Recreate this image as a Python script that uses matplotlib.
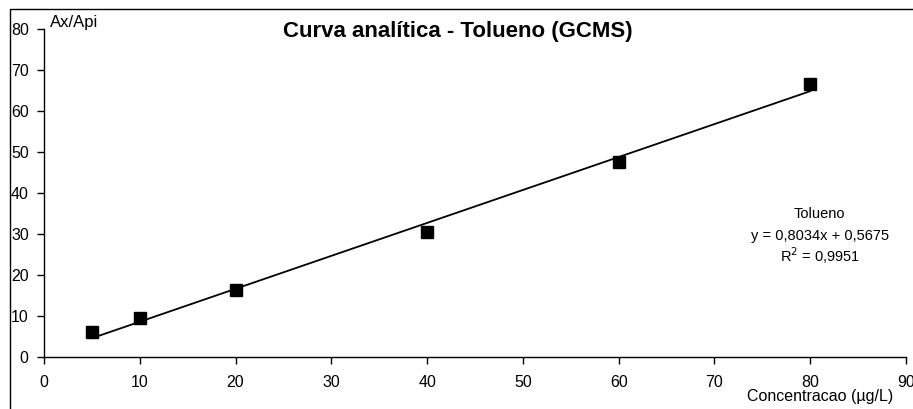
import numpy as np
import matplotlib
matplotlib.use('Agg')
import matplotlib.pyplot as plt
from matplotlib.patches import Rectangle

plt.rcParams['font.family'] = ['Liberation Sans', 'DejaVu Sans']

# Calibration data - toluene (GCMS)
concentracao = [5, 10, 20, 40, 60, 80]
razao_area = [6.2, 9.6, 16.3, 30.5, 47.6, 66.6]
slope = 0.8034
intercept = 0.5675
r2 = 0.9951

fig = plt.figure(figsize=(9.13, 4.09), dpi=100)
ax = fig.add_axes([44 / 913, 1 - 357 / 409, (906 - 44) / 913, (357 - 29) / 409])

# Outer chart-area frame
fig.patches.append(Rectangle((9.5 / 913, -0.1), 1.2, 1 - 9 / 409 + 0.1,
                             transform=fig.transFigure, fill=False,
                             edgecolor='black', linewidth=1.0))

# Measured points and linear fit
ax.plot(concentracao, razao_area, 's', color='black', markersize=8.5, zorder=3)
x_fit = np.array([concentracao[0], concentracao[-1]])
ax.plot(x_fit, slope * x_fit + intercept, color='black', linewidth=1.3, zorder=2)

ax.set_xlim(0, 90)
ax.set_ylim(0, 80)
ax.set_xticks(range(0, 91, 10))
ax.set_yticks(range(0, 81, 10))
for side in ['top', 'right']:
    ax.spines[side].set_visible(False)
ax.spines['left'].set_linewidth(1.0)
ax.spines['bottom'].set_linewidth(1.0)
ax.tick_params(direction='out', length=5, width=1, labelsize=11.5, pad=8)
ax.tick_params(axis='y', pad=6)

fig.text(458 / 913, 1 - 31 / 409, 'Curva analítica - Tolueno (GCMS)',
         ha='center', va='center', fontsize=16, fontweight='bold')
fig.text(50 / 913, 1 - 23 / 409, 'Ax/Api', ha='left', va='center', fontsize=12)
fig.text(820 / 913, 1 - 396 / 409, 'Concentracao (µg/L)',
         ha='center', va='center', fontsize=11.5)

ax.text(81.0, 34.9, 'Tolueno', ha='center', va='center', fontsize=10.5)
ax.text(81.0, 29.5, f'y = {slope:.4f}x + {intercept:.4f}'.replace('.', ','),
        ha='center', va='center', fontsize=10.5)
ax.text(81.0, 24.6, f'R$^2$ = {r2:.4f}'.replace('.', ','),
        ha='center', va='center', fontsize=10.5)

fig.savefig('out.png', dpi=100)
